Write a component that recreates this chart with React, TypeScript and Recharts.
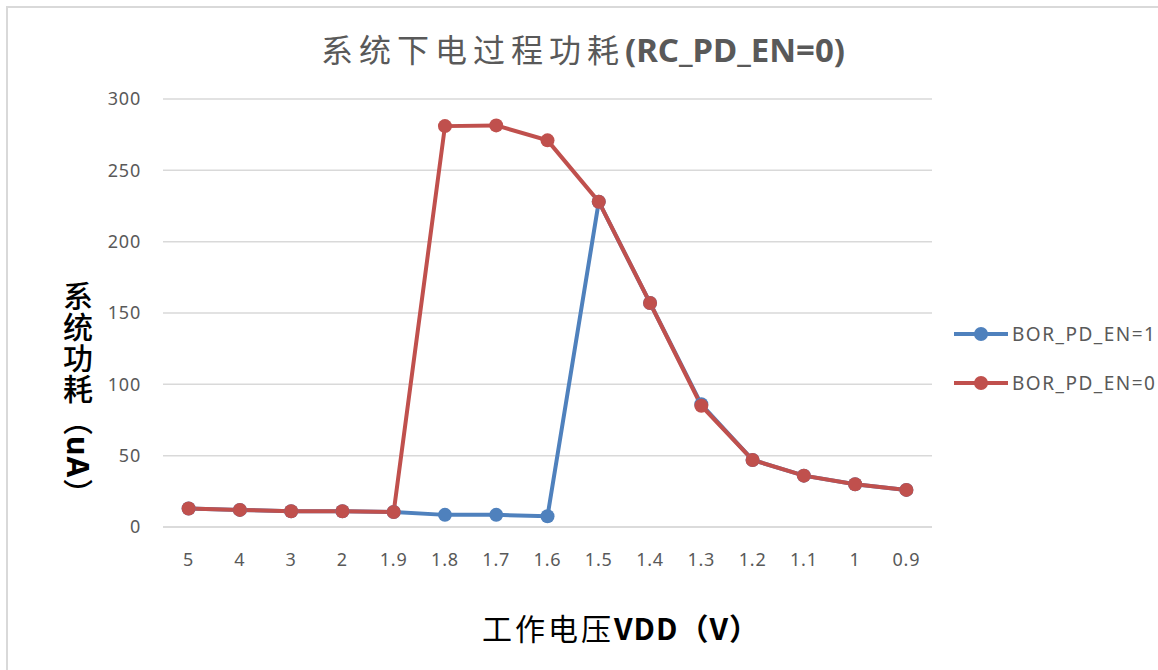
import { LineChart, Line, XAxis, YAxis, CartesianGrid } from 'recharts'

const voltages = ['5', '4', '3', '2', '1.9', '1.8', '1.7', '1.6', '1.5', '1.4', '1.3', '1.2', '1.1', '1', '0.9']
const borOn = [13, 12, 11, 11, 10.5, 8.5, 8.5, 7.5, 228, 157, 86, 47, 36, 30, 26]
const borOff = [13, 12, 11, 11, 10.5, 281, 281.5, 271, 228, 157, 85, 47, 36, 30, 26]
const yTicks = [0, 50, 100, 150, 200, 250, 300]

const data = voltages.map((v, i) => ({ v, on: borOn[i], off: borOff[i] }))

const BLUE = '#4f81bd'
const RED = '#c0504d'
const GREY = '#595959'
const latin = '"Noto Sans", "Noto Sans CJK SC", sans-serif'
const cjk = '"Noto Sans CJK SC", "Noto Sans", sans-serif'

const series = [
  { key: 'on', name: 'BOR_PD_EN=1', color: BLUE },
  { key: 'off', name: 'BOR_PD_EN=0', color: RED },
]

const tickStyle = { fill: GREY, fontSize: 18, fontFamily: latin, letterSpacing: 0.8 }

export default function App() {
  return (
    <div style={{ position: 'absolute', left: 0, top: 0, width: 1158, height: 670, background: '#fff', overflow: 'hidden' }}>
      <div style={{ position: 'absolute', left: 6, top: 6, right: -10, bottom: -10, borderTop: '2px solid #d9d9d9', borderLeft: '2px solid #d9d9d9' }} />
      <div style={{ position: 'absolute', left: 0, top: 25, width: 1166, textAlign: 'center', fontFamily: cjk, fontSize: 32, color: GREY, whiteSpace: 'nowrap' }}>
        <span style={{ letterSpacing: 6 }}>系统下电过程功耗</span>
        <span style={{ fontFamily: latin, fontWeight: 700, fontSize: 33 }}>(RC_PD_EN=0)</span>
      </div>
      <div style={{ position: 'absolute', left: 61, top: 281, writingMode: 'vertical-rl', fontFamily: cjk, fontSize: 30, fontWeight: 500, color: '#000', lineHeight: '34px', letterSpacing: 1 }}>
        系统功耗（<span style={{ fontWeight: 700, fontFamily: latin }}>uA</span>）
      </div>
      <div style={{ position: 'absolute', left: 0, top: 605, width: 1242, textAlign: 'center', fontFamily: cjk, fontSize: 30, color: '#000', whiteSpace: 'nowrap' }}>
        <span style={{ letterSpacing: 3 }}>工作电压</span>
        <span style={{ fontWeight: 700, letterSpacing: 1 }}>VDD（V）</span>
      </div>
      <div style={{ position: 'absolute', left: 952, top: 320 }}>
        {series.map((s, i) => (
          <div key={s.key} style={{ display: 'flex', alignItems: 'center', height: 28, marginBottom: i === 0 ? 21 : 0 }}>
            <svg width={58} height={20}>
              <line x1={2} y1={10} x2={56} y2={10} stroke={s.color} strokeWidth={4} />
              <circle cx={29} cy={10} r={7} fill={s.color} />
            </svg>
            <span style={{ fontFamily: latin, fontSize: 19, letterSpacing: 1.5, color: GREY, marginLeft: 2, whiteSpace: 'nowrap' }}>{s.name}</span>
          </div>
        ))}
      </div>
      <LineChart width={1158} height={670} data={data} margin={{ top: 99, right: 226, bottom: 113, left: 103 }} style={{ position: 'absolute', left: 0, top: 0 }}>
        <CartesianGrid vertical={false} stroke="#d9d9d9" strokeWidth={1.5} />
        <XAxis
          dataKey="v"
          height={30}
          padding={{ left: 25.6, right: 25.6 }}
          axisLine={{ stroke: '#d9d9d9', strokeWidth: 1.5 }}
          tickLine={false}
          tickSize={0}
          tickMargin={26}
          interval={0}
          tick={tickStyle}
        />
        <YAxis
          width={60}
          domain={[0, 300]}
          ticks={yTicks}
          axisLine={false}
          tickLine={false}
          tickSize={0}
          tickMargin={22}
          tick={tickStyle}
        />
        {series.map(s => (
          <Line
            key={s.key}
            type="linear"
            dataKey={s.key}
            name={s.name}
            stroke={s.color}
            strokeWidth={4}
            dot={{ r: 7, fill: s.color, stroke: s.color, strokeWidth: 0 }}
            activeDot={false}
            isAnimationActive={false}
          />
        ))}
      </LineChart>
    </div>
  )
}
